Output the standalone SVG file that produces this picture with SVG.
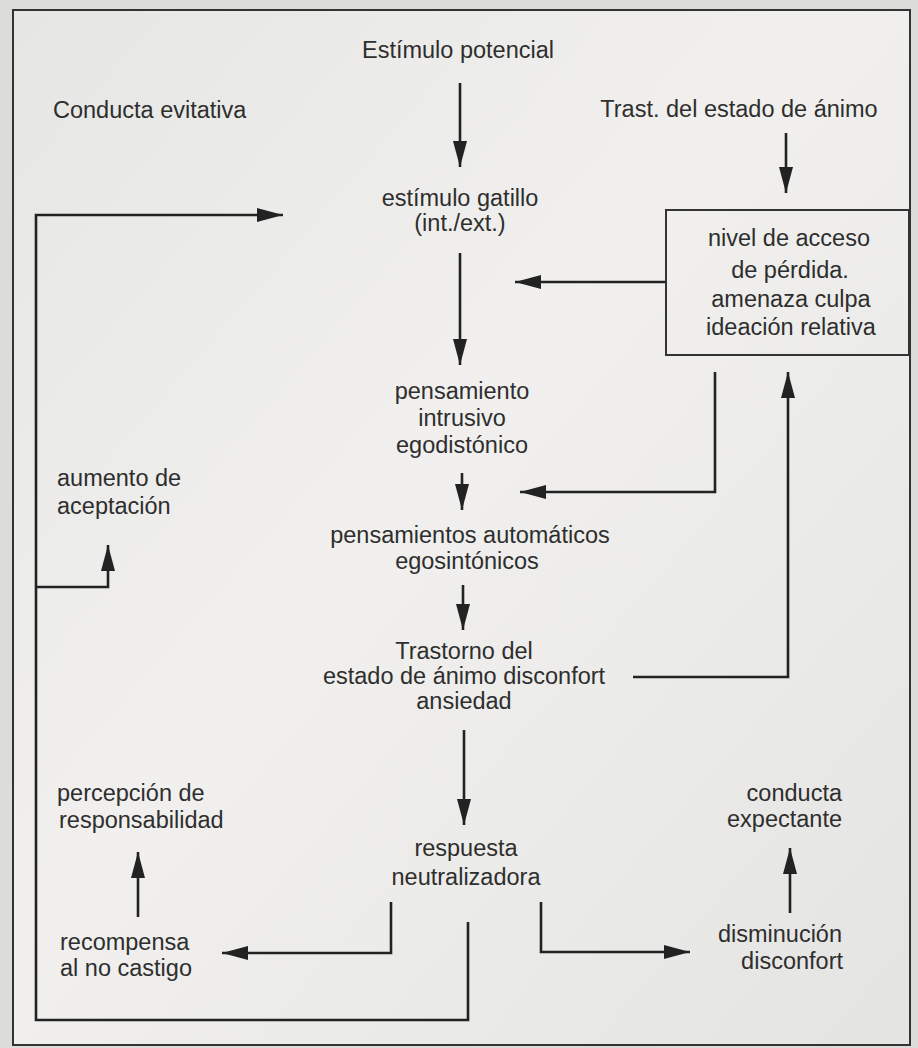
<svg xmlns="http://www.w3.org/2000/svg" width="918" height="1048" viewBox="0 0 918 1048">
<defs>
<style>
.t{font-family:"Liberation Sans",Arial,sans-serif;font-size:23.5px;fill:#2e2e2e}
.m{text-anchor:middle}
.r{text-anchor:end}
.c{fill:none;stroke:#222;stroke-width:2.6}
</style>
<marker id="ah" markerUnits="userSpaceOnUse" markerWidth="28" markerHeight="15" refX="26" refY="7" orient="auto">
<path d="M0,0 L26,7 L0,14 Z" fill="#222"/>
</marker>
<linearGradient id="bg" x1="0" y1="0" x2="1" y2="1">
<stop offset="0" stop-color="#e6e6e4"/>
<stop offset="0.45" stop-color="#f1f0ee"/>
<stop offset="1" stop-color="#e4e4e2"/>
</linearGradient>
</defs>
<rect x="0" y="0" width="918" height="1048" fill="#dcdcda"/>
<rect x="13" y="10" width="897" height="1035" fill="url(#bg)" stroke="#333" stroke-width="2"/>

<g id="connectors">
<path class="c" d="M460,83 V167" marker-end="url(#ah)"/>
<path class="c" d="M786,133 V193" marker-end="url(#ah)"/>
<path class="c" d="M460,253 V365" marker-end="url(#ah)"/>
<path class="c" d="M666,282 H515" marker-end="url(#ah)"/>
<path class="c" d="M462,473 V510" marker-end="url(#ah)"/>
<path class="c" d="M715,372 V492 H520" marker-end="url(#ah)"/>
<path class="c" d="M633,677 H788 V372" marker-end="url(#ah)"/>
<path class="c" d="M463,585 V630" marker-end="url(#ah)"/>
<path class="c" d="M464,730 V825" marker-end="url(#ah)"/>
<path class="c" d="M391,902 V953 H222" marker-end="url(#ah)"/>
<path class="c" d="M541,902 V952 H690" marker-end="url(#ah)"/>
<path class="c" d="M138,917 V852" marker-end="url(#ah)"/>
<path class="c" d="M790,913 V848" marker-end="url(#ah)"/>
<path class="c" d="M468,922 V1020 H36 V215 H283" marker-end="url(#ah)"/>
<path class="c" d="M36,587 H108 V545" marker-end="url(#ah)"/>
</g>

<g id="estimulo-potencial"><text class="t m" x="458" y="58">Estímulo potencial</text></g>
<g id="conducta-evitativa"><text class="t" x="53" y="118">Conducta evitativa</text></g>
<g id="trast-estado-animo"><text class="t m" x="739" y="117">Trast. del estado de ánimo</text></g>
<g id="estimulo-gatillo">
<text class="t m" x="460" y="206">estímulo gatillo</text>
<text class="t m" x="460" y="231">(int./ext.)</text>
</g>
<g id="nivel-acceso">
<rect x="666" y="210" width="243" height="145" fill="none" stroke="#333" stroke-width="2"/>
<text class="t m" x="789" y="246">nivel de acceso</text>
<text class="t m" x="790" y="278">de pérdida.</text>
<text class="t m" x="791" y="307">amenaza culpa</text>
<text class="t m" x="791" y="335">ideación relativa</text>
</g>
<g id="pensamiento-intrusivo">
<text class="t m" x="462" y="399">pensamiento</text>
<text class="t m" x="462" y="426">intrusivo</text>
<text class="t m" x="462" y="453">egodistónico</text>
</g>
<g id="aumento-aceptacion">
<text class="t" x="57" y="486">aumento de</text>
<text class="t" x="57" y="514">aceptación</text>
</g>
<g id="pensamientos-automaticos">
<text class="t m" x="470" y="543">pensamientos automáticos</text>
<text class="t m" x="467" y="569">egosintónicos</text>
</g>
<g id="trastorno">
<text class="t m" x="464" y="659">Trastorno del</text>
<text class="t m" x="464" y="684">estado de ánimo disconfort</text>
<text class="t m" x="464" y="709">ansiedad</text>
</g>
<g id="percepcion">
<text class="t" x="57" y="801">percepción de</text>
<text class="t" x="59" y="828">responsabilidad</text>
</g>
<g id="conducta-expectante">
<text class="t r" x="842" y="801">conducta</text>
<text class="t r" x="842" y="827">expectante</text>
</g>
<g id="respuesta">
<text class="t m" x="466" y="856">respuesta</text>
<text class="t m" x="466" y="885">neutralizadora</text>
</g>
<g id="recompensa">
<text class="t" x="60" y="950">recompensa</text>
<text class="t" x="60" y="976">al no castigo</text>
</g>
<g id="disminucion">
<text class="t r" x="842" y="942">disminución</text>
<text class="t r" x="843" y="969">disconfort</text>
</g>
</svg>
